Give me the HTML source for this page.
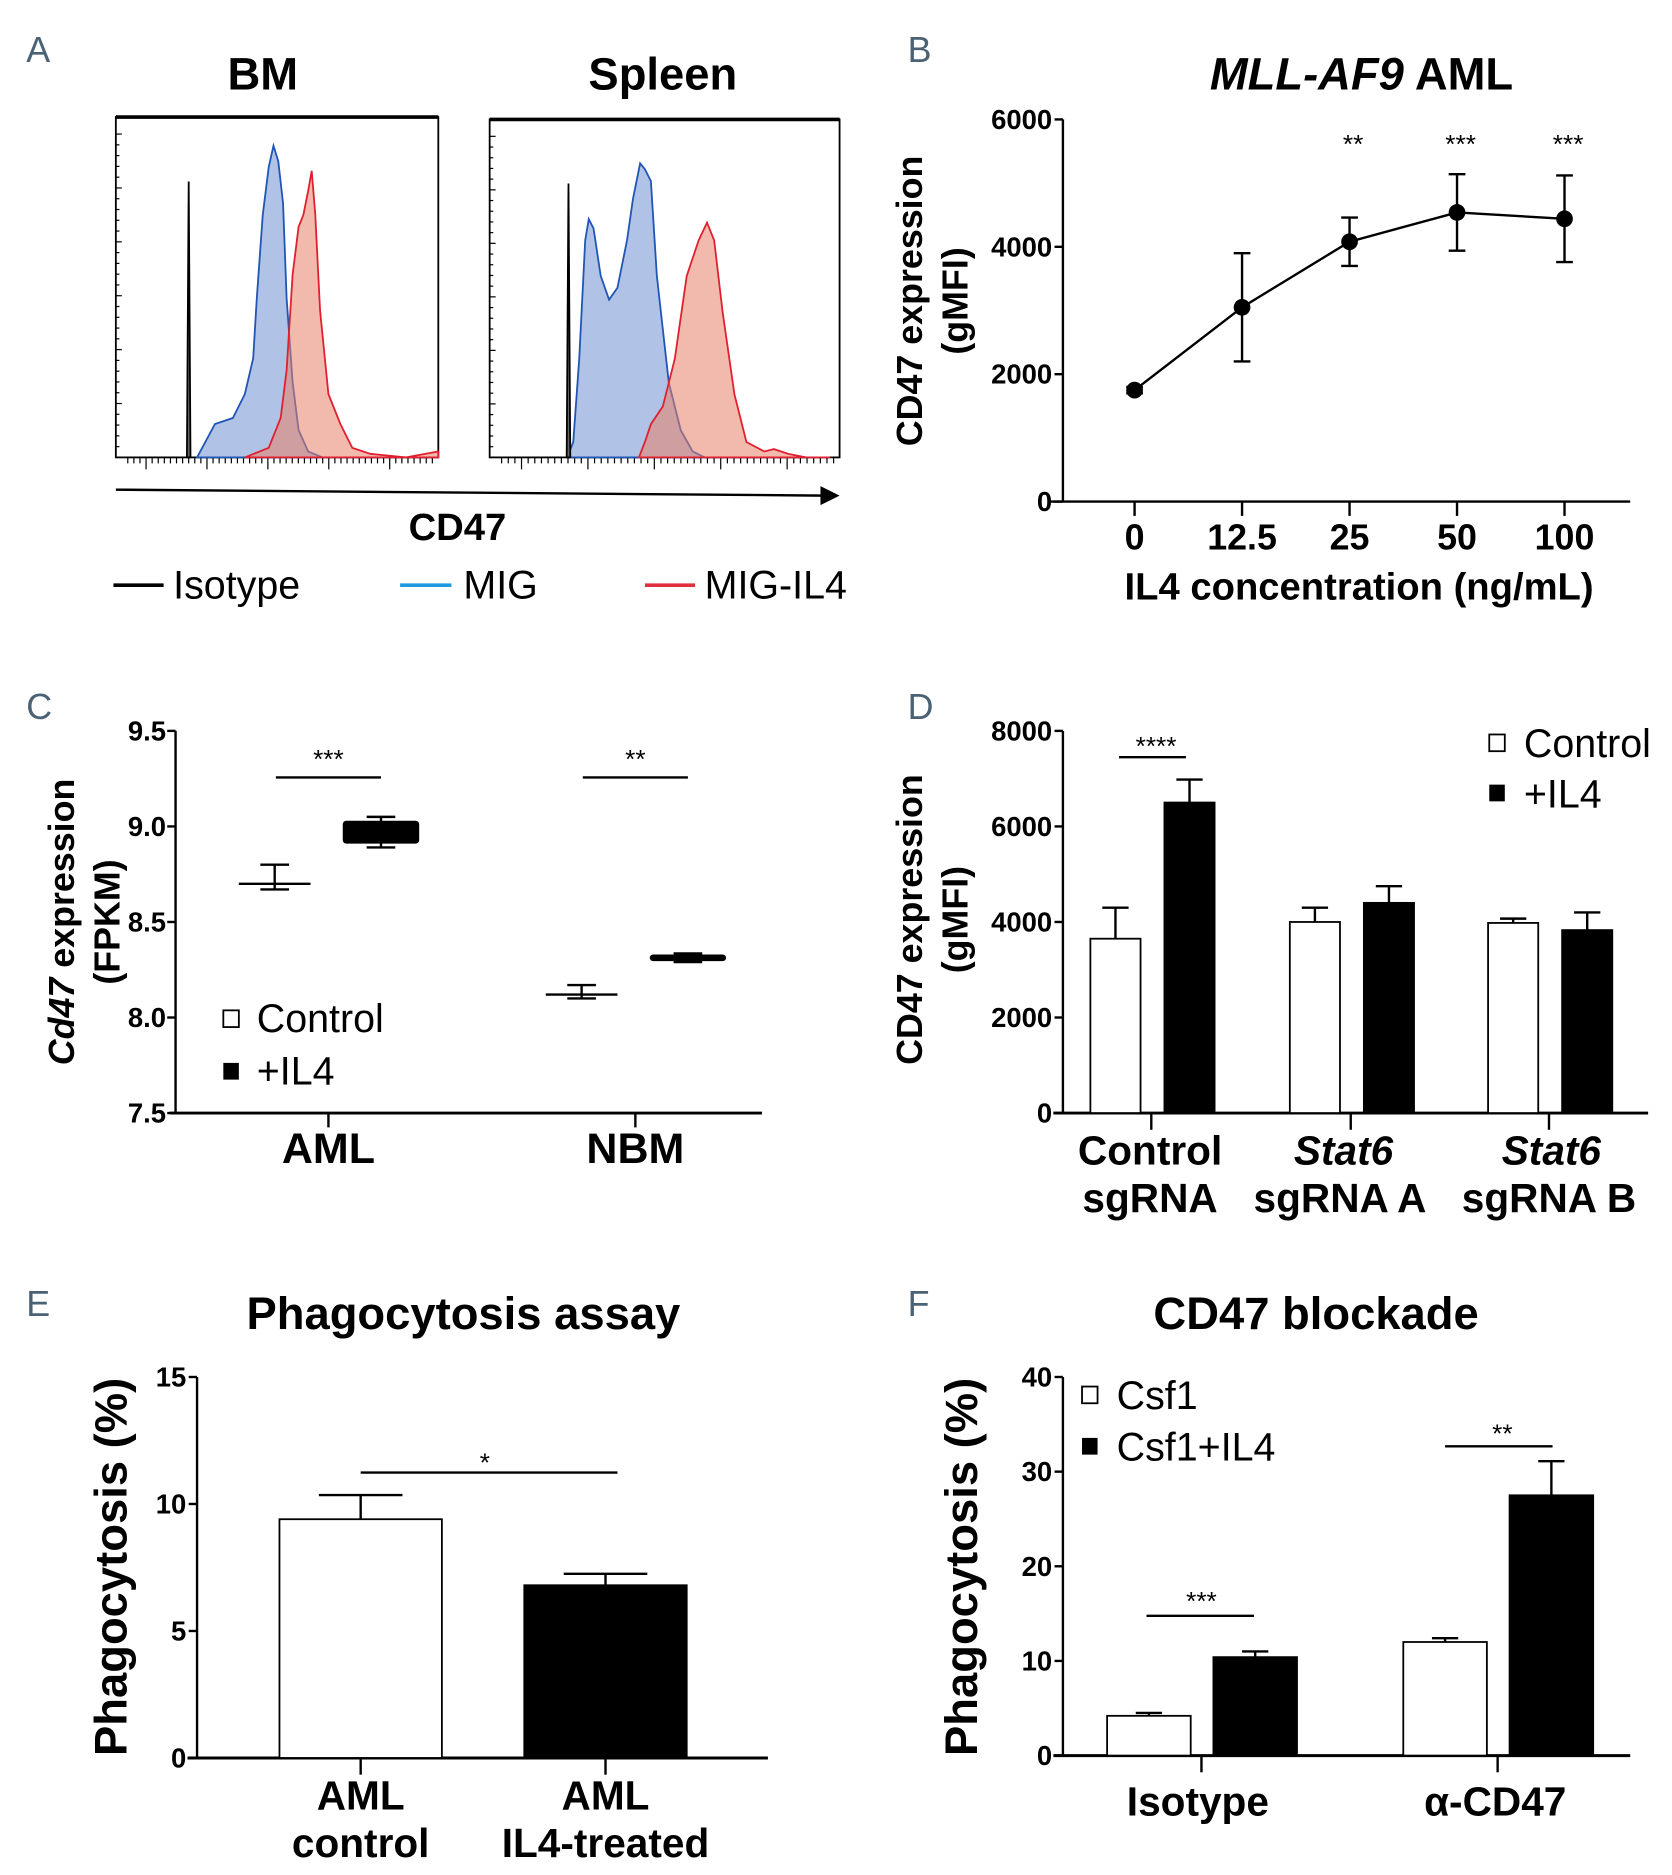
<!DOCTYPE html>
<html><head><meta charset="utf-8">
<style>
html,body{margin:0;padding:0;background:#fff;}
svg{display:block;}
.n{font-family:"Liberation Sans Narrow","Liberation Sans",sans-serif;font-weight:bold;}
.w{font-family:"Liberation Sans",sans-serif;font-weight:bold;}
.r{font-family:"Liberation Sans Narrow","Liberation Sans",sans-serif;}
.pl{font-family:"Liberation Sans Narrow","Liberation Sans",sans-serif;fill:#4a6274;font-size:30px;}
</style></head>
<body>
<svg id="fig" width="1672" height="1875" viewBox="0 0 1400 1570" preserveAspectRatio="none" xmlns="http://www.w3.org/2000/svg">
<text class="pl" x="22" y="52">A</text>
<text class="pl" x="760" y="52">B</text>
<text class="pl" x="22" y="602">C</text>
<text class="pl" x="760" y="602">D</text>
<text class="pl" x="22" y="1102">E</text>
<text class="pl" x="760" y="1102">F</text>

<text class="n" x="220" y="75" font-size="38" text-anchor="middle">BM</text>
<text class="n" x="555" y="75" font-size="38" text-anchor="middle">Spleen</text>
<line x1="97" y1="410" x2="690" y2="415" stroke="#000" stroke-width="2"/>
<polygon points="703,415 687,407 687,423" fill="#000"/>
<text class="n" x="383" y="452" font-size="32" text-anchor="middle">CD47</text>
<g>
<line x1="95" y1="490" x2="137" y2="490" stroke="#000" stroke-width="3"/>
<text class="r" x="145" y="501" font-size="33">Isotype</text>
<line x1="335" y1="490" x2="378" y2="490" stroke="#1e9be0" stroke-width="3"/>
<text class="r" x="388" y="501" font-size="33">MIG</text>
<line x1="540" y1="490" x2="582" y2="490" stroke="#e03040" stroke-width="3"/>
<text class="r" x="590" y="501" font-size="33">MIG-IL4</text>
</g>

<text x="1140" y="75" font-size="38" text-anchor="middle"><tspan class="n" font-style="italic">MLL-AF9</tspan><tspan class="n"> AML</tspan></text>
<text class="n" x="1138" y="502" font-size="32" text-anchor="middle">IL4 concentration (ng/mL)</text>
<text class="w" transform="translate(772,252) rotate(-90)" font-size="30" text-anchor="middle">CD47 expression</text>
<text class="w" transform="translate(810,252) rotate(-90)" font-size="30" text-anchor="middle">(gMFI)</text>

<text transform="translate(62,772) rotate(-90)" font-size="30" text-anchor="middle"><tspan class="w" font-style="italic">Cd47</tspan><tspan class="w"> expression</tspan></text>
<text class="w" transform="translate(100,772) rotate(-90)" font-size="30" text-anchor="middle">(FPKM)</text>

<text class="w" transform="translate(772,770) rotate(-90)" font-size="30" text-anchor="middle">CD47 expression</text>
<text class="w" transform="translate(810,770) rotate(-90)" font-size="30" text-anchor="middle">(gMFI)</text>

<text class="n" x="388" y="1113" font-size="38" text-anchor="middle">Phagocytosis assay</text>
<text class="w" transform="translate(106,1312) rotate(-90)" font-size="38" text-anchor="middle">Phagocytosis (%)</text>
<text class="n" x="1102" y="1113" font-size="38" text-anchor="middle">CD47 blockade</text>
<text class="w" transform="translate(818,1312) rotate(-90)" font-size="38" text-anchor="middle">Phagocytosis (%)</text>
</svg>
<script>
const NS='http://www.w3.org/2000/svg';
const fig=document.getElementById('fig');
function mk(tag,attrs,name,parent){
  const el=document.createElementNS(NS,tag);
  for(const k in attrs) el.setAttribute(k,attrs[k]);
  
  
  (parent||fig).appendChild(el);
  return el;
}
function txt(x,y,s,size,name,anchor,cls){
  const t=mk('text',{x:x,y:y,'font-size':size,'text-anchor':anchor||'middle','class':cls||'n'},name);
  t.textContent=s;return t;
}
const TK=23;

/* ---------- Panel A data (CD47 channel units, counts) ---------- */
const bmIsoX=[59.5,61,62.5];  const bmIsoY=[0,231,0];
const bmMigX=[68,83,98,108,115,118,123,128,132,136,140,143,148,153,161,173];
const bmMigY=[0,28,33,53,83,133,203,243,261,248,213,133,63,23,5,0];
const bmIl4X=[108,128,138,143,148,153,157,161,164,167,171,178,188,198,213,243,270];
const bmIl4Y=[0,8,33,73,153,193,203,223,240,203,123,53,28,8,3,0,5];
const spIsoX=[64.5,66,67.5]; const spIsoY=[0,231,0];
const spMigX=[65,70,75,80,83,87,93,100,107,115,120,126,130,135,140,150,160,170,180];
const spMigY=[0,13,83,183,201,193,153,133,143,183,218,248,243,233,153,63,23,5,0];
const spIl4X=[125,130,135,145,155,165,175,182,188,195,205,215,230,238,250,265,285];
const spIl4Y=[0,13,28,43,83,153,183,198,183,123,53,13,5,7,3,0,0];

function histPanel(bx,by,bw,bh,xmax,series,name){
  const g=mk('g',{},name);
  const sx=v=>bx+v/xmax*bw, sy=v=>by+bh-v/285*bh;
  mk('rect',{x:bx,y:by,width:bw,height:bh,fill:'none',stroke:'#000','stroke-width':1.5},name+'-frame',g);
  mk('line',{x1:bx,y1:by,x2:bx+bw,y2:by,stroke:'#000','stroke-width':3},name+'-top-border',g);
  for(let i=0;i<=30;i++){const yy=by+bh-i*bh/30*0.95;mk('line',{x1:bx,y1:yy,x2:bx+(i%5==0?5:3),y2:yy,stroke:'#000','stroke-width':1},name+'-y-tick',g);}
  for(let i=0;i<=50;i++){const xx=bx+10+i*(bw-15)/50;mk('line',{x1:xx,y1:by+bh,x2:xx,y2:by+bh+(i%10==3?10:5),stroke:'#000','stroke-width':1},name+'-x-tick',g);}
  series.forEach(s=>{
    let d='M'+sx(s.x[0])+','+sy(0);
    s.x.forEach((v,i)=>{d+=' L'+sx(v)+','+sy(s.y[i]);});
    d+=' L'+sx(s.x[s.x.length-1])+','+sy(0)+' Z';
    mk('path',{d:d,fill:s.fill,'fill-opacity':s.op,stroke:s.stroke,'stroke-width':1.5},name+'-'+s.n,g);
  });
}
histPanel(97,98,270,285,270,[
  {x:bmMigX,y:bmMigY,fill:'#6f8fcf',op:0.55,stroke:'#1f55b5',n:'mig-histogram'},
  {x:bmIl4X,y:bmIl4Y,fill:'#e8826a',op:0.55,stroke:'#e02030',n:'mig-il4-histogram'},
  {x:bmIsoX,y:bmIsoY,fill:'#666',op:1,stroke:'#000',n:'isotype-histogram'}],'bm-histogram-plot');
histPanel(410,100,293,283,293,[
  {x:spMigX,y:spMigY,fill:'#6f8fcf',op:0.55,stroke:'#1f55b5',n:'mig-histogram'},
  {x:spIl4X,y:spIl4Y,fill:'#e8826a',op:0.55,stroke:'#e02030',n:'mig-il4-histogram'},
  {x:spIsoX,y:spIsoY,fill:'#666',op:1,stroke:'#000',n:'isotype-histogram'}],'spleen-histogram-plot');

/* ---------- Panel B ---------- */
const bCats=['0','12.5','25','50','100'];
const bMean=[1750,3050,4080,4540,4440];
const bErr=[50,850,380,600,680];
const bSig=['','','**','***','***'];
const bTicks=[0,2000,4000,6000];
(function(){
  const X0=890,Y0=420,Y1=100,ymax=6000;
  const sy=v=>Y0-v/ymax*(Y0-Y1);
  const sx=i=>950+i*90;
  mk('line',{x1:X0,y1:Y1,x2:X0,y2:Y0,stroke:'#000','stroke-width':2},'b-y-axis');
  mk('line',{x1:X0-10,y1:Y0,x2:1365,y2:Y0,stroke:'#000','stroke-width':2},'b-x-axis');
  bTicks.forEach(t=>{mk('line',{x1:X0-7,y1:sy(t),x2:X0,y2:sy(t),stroke:'#000','stroke-width':2},'b-y-tick');
    txt(X0-9,sy(t)+8,String(t),TK,'b-y-tick-label','end');});
  let d='';
  bCats.forEach((c,i)=>{
    mk('line',{x1:sx(i),y1:Y0,x2:sx(i),y2:Y0+12,stroke:'#000','stroke-width':2},'b-x-tick');
    txt(sx(i),Y0+40,c,30,'b-x-tick-label');
    d+=(i?' L':'M')+sx(i)+','+sy(bMean[i]);
  });
  mk('path',{d:d,fill:'none',stroke:'#000','stroke-width':2},'b-line');
  bCats.forEach((c,i)=>{
    const x=sx(i);
    mk('line',{x1:x,y1:sy(bMean[i]-bErr[i]),x2:x,y2:sy(bMean[i]+bErr[i]),stroke:'#000','stroke-width':2},'b-error-bar');
    mk('line',{x1:x-7,y1:sy(bMean[i]+bErr[i]),x2:x+7,y2:sy(bMean[i]+bErr[i]),stroke:'#000','stroke-width':2},'b-error-cap');
    mk('line',{x1:x-7,y1:sy(bMean[i]-bErr[i]),x2:x+7,y2:sy(bMean[i]-bErr[i]),stroke:'#000','stroke-width':2},'b-error-cap');
    mk('circle',{cx:x,cy:sy(bMean[i]),r:7,fill:'#000'},'b-point');
    if(bSig[i]) txt(x+3,128,bSig[i],22,'b-significance','middle','r');
  });
})();

/* ---------- Panel C (box plots) ---------- */
const cCats=['AML','NBM'];
const cCtrlMin=[8.67,8.10], cCtrlMed=[8.70,8.12], cCtrlMax=[8.80,8.17];
const cIl4Min=[8.89,8.29], cIl4Q1=[8.91,8.295], cIl4Q3=[9.03,8.33], cIl4Max=[9.05,8.335];
const cSig=['***','**'];
const cTicks=[7.5,8.0,8.5,9.0,9.5];
(function(){
  const X0=147,Y0=932,Y1=612,ymin=7.5,ymax=9.5;
  const sy=v=>Y0-(v-ymin)/(ymax-ymin)*(Y0-Y1);
  const cx=[275,532];
  mk('line',{x1:X0,y1:Y1,x2:X0,y2:Y0,stroke:'#000','stroke-width':2},'c-y-axis');
  mk('line',{x1:X0-5,y1:Y0,x2:638,y2:Y0,stroke:'#000','stroke-width':2.5},'c-x-axis');
  cTicks.forEach(t=>{mk('line',{x1:X0-7,y1:sy(t),x2:X0,y2:sy(t),stroke:'#000','stroke-width':2},'c-y-tick');
    txt(X0-8,sy(t)+8,t.toFixed(1),TK,'c-y-tick-label','end');});
  cCats.forEach((c,i)=>{
    const x=cx[i];
    mk('line',{x1:x,y1:Y0,x2:x,y2:Y0+12,stroke:'#000','stroke-width':2},'c-x-tick');
    txt(x,Y0+42,c,36,'c-x-tick-label');
    const a=x-45;
    mk('line',{x1:a,y1:sy(cCtrlMin[i]),x2:a,y2:sy(cCtrlMax[i]),stroke:'#000','stroke-width':2},'c-control-whisker');
    mk('line',{x1:a-12,y1:sy(cCtrlMax[i]),x2:a+12,y2:sy(cCtrlMax[i]),stroke:'#000','stroke-width':2},'c-control-cap');
    mk('line',{x1:a-12,y1:sy(cCtrlMin[i]),x2:a+12,y2:sy(cCtrlMin[i]),stroke:'#000','stroke-width':2},'c-control-cap');
    mk('line',{x1:a-30,y1:sy(cCtrlMed[i]),x2:a+30,y2:sy(cCtrlMed[i]),stroke:'#000','stroke-width':2},'c-control-median');
    const b=x+44;
    mk('line',{x1:b,y1:sy(cIl4Min[i]),x2:b,y2:sy(cIl4Max[i]),stroke:'#000','stroke-width':2},'c-il4-whisker');
    mk('line',{x1:b-12,y1:sy(cIl4Max[i]),x2:b+12,y2:sy(cIl4Max[i]),stroke:'#000','stroke-width':2},'c-il4-cap');
    mk('line',{x1:b-12,y1:sy(cIl4Min[i]),x2:b+12,y2:sy(cIl4Min[i]),stroke:'#000','stroke-width':2},'c-il4-cap');
    mk('rect',{x:b-32,y:sy(cIl4Q3[i]),width:64,height:Math.max(4,sy(cIl4Q1[i])-sy(cIl4Q3[i])),fill:'#000',rx:3},'c-il4-box');
    mk('line',{x1:x-44,y1:651,x2:x+44,y2:651,stroke:'#000','stroke-width':2},'c-significance-line');
    txt(x,643,cSig[i],22,'c-significance','middle','r');
  });
  mk('rect',{x:187,y:846,width:13,height:14,fill:'#fff',stroke:'#000','stroke-width':1.5},'c-legend-control-swatch');
  txt(215,864,'Control',33,'c-legend-control','start','r');
  mk('rect',{x:187,y:890,width:13,height:14,fill:'#000'},'c-legend-il4-swatch');
  txt(215,908,'+IL4',33,'c-legend-il4','start','r');
})();

/* ---------- bar chart helper ---------- */
function barChart(o){
  const sy=v=>o.Y0-v/o.ymax*(o.Y0-o.Y1);
  mk('line',{x1:o.X0,y1:o.Y1,x2:o.X0,y2:o.Y0,stroke:'#000','stroke-width':2},o.n+'-y-axis');
  mk('line',{x1:o.X0-8,y1:o.Y0,x2:o.XE,y2:o.Y0,stroke:'#000','stroke-width':2.5},o.n+'-x-axis');
  o.ticks.forEach(t=>{mk('line',{x1:o.X0-7,y1:sy(t),x2:o.X0,y2:sy(t),stroke:'#000','stroke-width':2},o.n+'-y-tick');
    txt(o.X0-9,sy(t)+8,String(t),TK,o.n+'-y-tick-label','end');});
  o.centers.forEach((c,i)=>{
    mk('line',{x1:c,y1:o.Y0,x2:c,y2:o.Y0+14,stroke:'#000','stroke-width':2},o.n+'-x-tick');
    o.series.forEach((s,j)=>{
      const x=c+o.offs[j];
      const v=s.v[i], e=s.e[i];
      mk('line',{x1:x+o.bw/2,y1:sy(v),x2:x+o.bw/2,y2:sy(v+e),stroke:'#000','stroke-width':2},o.n+'-error-bar');
      mk('line',{x1:x+o.bw/2-o.cap,y1:sy(v+e),x2:x+o.bw/2+o.cap,y2:sy(v+e),stroke:'#000','stroke-width':2},o.n+'-error-cap');
      mk('rect',{x:x,y:sy(v),width:o.bw,height:o.Y0-sy(v),fill:s.fill,stroke:'#000','stroke-width':1.5},o.n+'-bar-'+s.k);
    });
  });
  return sy;
}

/* ---------- Panel D ---------- */
const dGroups=['Control sgRNA','Stat6 sgRNA A','Stat6 sgRNA B'];
const dCtrl=[3650,4000,3980], dCtrlErr=[650,300,90];
const dIl4=[6500,4400,3830], dIl4Err=[480,350,370];
const dTicks=[0,2000,4000,6000,8000];
(function(){
  barChart({n:'d',X0:890,XE:1380,Y0:932,Y1:612,ymax:8000,ticks:dTicks,centers:[964,1131,1297],offs:[-51,11],bw:42,cap:11,
    series:[{v:dCtrl,e:dCtrlErr,fill:'#fff',k:'control'},{v:dIl4,e:dIl4Err,fill:'#000',k:'il4'}]});
  txt(963,975,'Control',34,'d-x-label-control');
  txt(963,1015,'sgRNA',34,'d-x-label-control-2');
  const t1=txt(1125,975,'Stat6',34,'d-x-label-stat6-a'); t1.setAttribute('font-style','italic');
  txt(1122,1015,'sgRNA A',34,'d-x-label-stat6-a-2');
  const t2=txt(1299,975,'Stat6',34,'d-x-label-stat6-b'); t2.setAttribute('font-style','italic');
  txt(1297,1015,'sgRNA B',34,'d-x-label-stat6-b-2');
  mk('line',{x1:937,y1:634,x2:993,y2:634,stroke:'#000','stroke-width':2},'d-significance-line');
  txt(968,632,'****',22,'d-significance','middle','r');
  mk('rect',{x:1247,y:615,width:13,height:14,fill:'#fff',stroke:'#000','stroke-width':1.5},'d-legend-control-swatch');
  txt(1276,634,'Control',33,'d-legend-control','start','r');
  mk('rect',{x:1247,y:657,width:13,height:14,fill:'#000'},'d-legend-il4-swatch');
  txt(1276,676,'+IL4',33,'d-legend-il4','start','r');
})();

/* ---------- Panel E ---------- */
const eCats=['AML control','AML IL4-treated'];
const eVal=[9.4,6.8], eErr=[0.95,0.45];
const eTicks=[0,5,10,15];
(function(){
  const O={X0:165,XE:643,Y0:1472,Y1:1153,ymax:15,centers:[302,507]};
  const sy=v=>O.Y0-v/O.ymax*(O.Y0-O.Y1);
  mk('line',{x1:O.X0,y1:O.Y1,x2:O.X0,y2:O.Y0,stroke:'#000','stroke-width':2},'e-y-axis');
  mk('line',{x1:O.X0-8,y1:O.Y0,x2:O.XE,y2:O.Y0,stroke:'#000','stroke-width':2.5},'e-x-axis');
  eTicks.forEach(t=>{mk('line',{x1:O.X0-7,y1:sy(t),x2:O.X0,y2:sy(t),stroke:'#000','stroke-width':2},'e-y-tick');
    txt(O.X0-9,sy(t)+8,String(t),TK,'e-y-tick-label','end');});
  const fills=['#fff','#000'];
  O.centers.forEach((c,i)=>{
    mk('line',{x1:c,y1:O.Y0,x2:c,y2:O.Y0+14,stroke:'#000','stroke-width':2},'e-x-tick');
    mk('line',{x1:c,y1:sy(eVal[i]),x2:c,y2:sy(eVal[i]+eErr[i]),stroke:'#000','stroke-width':2},'e-error-bar');
    mk('line',{x1:c-35,y1:sy(eVal[i]+eErr[i]),x2:c+35,y2:sy(eVal[i]+eErr[i]),stroke:'#000','stroke-width':2},'e-error-cap');
    mk('rect',{x:c-68,y:sy(eVal[i]),width:136,height:O.Y0-sy(eVal[i]),fill:fills[i],stroke:'#000','stroke-width':1.5},'e-bar');
    const p=eCats[i].split(' ');
    txt(c,1515,p[0],34,'e-x-label');
    txt(c,1555,p.slice(1).join(' '),34,'e-x-label-2');
  });
  mk('line',{x1:302,y1:1233,x2:517,y2:1233,stroke:'#000','stroke-width':2},'e-significance-line');
  txt(406,1232,'*',22,'e-significance','middle','r');
})();

/* ---------- Panel F ---------- */
const fGroups=['Isotype','\u03b1-CD47'];
const fCsf1=[4.2,12.0], fCsf1Err=[0.3,0.4];
const fIl4=[10.4,27.5], fIl4Err=[0.6,3.6];
const fTicks=[0,10,20,30,40];
(function(){
  barChart({n:'f',X0:890,XE:1365,Y0:1470,Y1:1153,ymax:40,ticks:fTicks,centers:[1006,1254],offs:[-79,10],bw:70,cap:11,
    series:[{v:fCsf1,e:fCsf1Err,fill:'#fff',k:'csf1'},{v:fIl4,e:fIl4Err,fill:'#000',k:'csf1-il4'}]});
  txt(1003,1520,fGroups[0],34,'f-x-label-isotype');
  txt(1252,1520,fGroups[1],34,'f-x-label-anti-cd47');
  mk('line',{x1:960,y1:1353,x2:1050,y2:1353,stroke:'#000','stroke-width':2},'f-significance-line');
  txt(1006,1348,'***',22,'f-significance','middle','r');
  mk('line',{x1:1210,y1:1211,x2:1300,y2:1211,stroke:'#000','stroke-width':2},'f-significance-line');
  txt(1258,1208,'**',22,'f-significance','middle','r');
  mk('rect',{x:906,y:1161,width:13,height:14,fill:'#fff',stroke:'#000','stroke-width':1.5},'f-legend-csf1-swatch');
  txt(935,1180,'Csf1',33,'f-legend-csf1','start','r');
  mk('rect',{x:906,y:1204,width:13,height:14,fill:'#000'},'f-legend-csf1-il4-swatch');
  txt(935,1223,'Csf1+IL4',33,'f-legend-csf1-il4','start','r');
})();
</script>
</body></html>
